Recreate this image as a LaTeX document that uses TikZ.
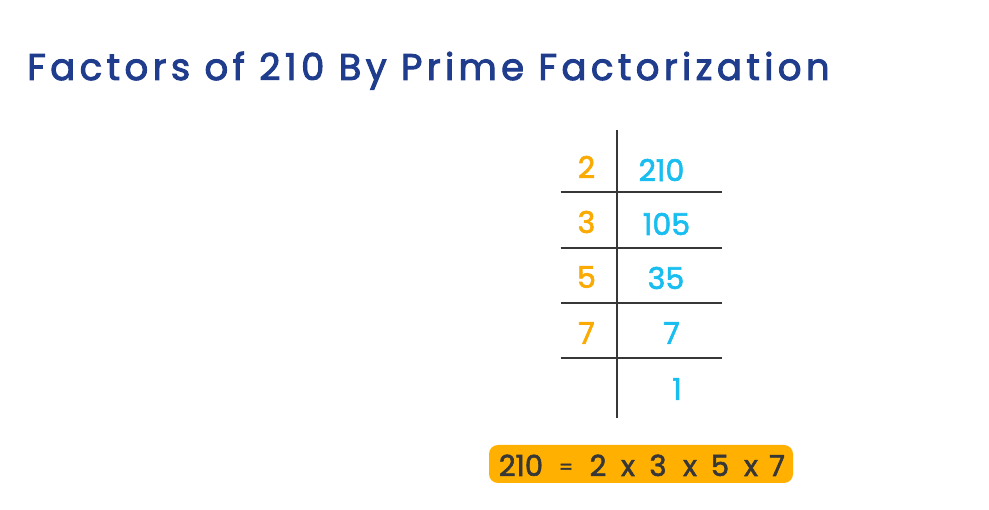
\documentclass[tikz,border=0pt]{standalone}
\usepackage{fontspec}
\setmainfont{Poppins}
\newfontfamily\titlefont[LetterSpace=12,FakeBold=2.6]{Poppins}
\newfontfamily\numfont[FakeBold=2]{Poppins}
\definecolor{titleblue}{RGB}{31,61,140}
\definecolor{numorange}{RGB}{250,170,0}
\definecolor{numblue}{RGB}{25,190,240}
\definecolor{boxorange}{RGB}{255,176,0}
\definecolor{rulegray}{RGB}{55,55,55}
\begin{document}
\begin{tikzpicture}[x=1pt,y=-1pt,
  rule/.style={draw=rulegray,line width=2pt},
  prime/.style={text=numorange,font=\numfont\fontsize{30}{30}\selectfont,inner sep=0pt},
  quot/.style={text=numblue,font=\numfont\fontsize{30}{30}\selectfont,inner sep=0pt},
  eqpart/.style={text=rulegray,font=\numfont\fontsize{29}{29}\selectfont,inner sep=0pt,anchor=base}]
\useasboundingbox[fill=white] (0,0) rectangle (989,510);
% title
\node[anchor=base west,inner sep=0pt,text=titleblue,font=\titlefont\fontsize{37}{37}\selectfont] (title) at (27,80) {Factors of 210 By Prime Factorization};
% table
\coordinate (vt) at (616.5,130);
\coordinate (vb) at (616.5,418);
\draw[rule] (vt) -- (vb);
\foreach \y/\n in {192.5/a,248/b,303/c,358.5/d}{
  \coordinate (l\n) at (560.5,\y);
  \coordinate (r\n) at (722,\y);
  \draw[rule] (l\n) -- (r\n);
}
\node[prime] (p1) at (586.5,167) {2};
\node[prime] (p2) at (586.5,222) {3};
\node[prime] (p3) at (586.5,277) {5};
\node[prime] (p4) at (586.5,333) {7};
\node[quot] (q1) at (661.5,170) {210};
\node[quot] (q2) at (666.5,224) {105};
\node[quot] (q3) at (666,278) {35};
\node[quot] (q4) at (671.5,333) {7};
\node[quot] (q5) at (677,389) {1};
% result box
\node[fill=boxorange,rounded corners=9pt,minimum width=304pt,minimum height=38pt,inner sep=0pt] (box) at (641,464) {};
\node[eqpart] (e1) at (521,476) {210};
\node[eqpart,font=\numfont\fontsize{20}{20}\selectfont] (e2) at (566,474) {=};
\node[eqpart] (e3) at (598,476) {2};
\node[eqpart] (e4) at (628,476) {x};
\node[eqpart] (e5) at (658,476) {3};
\node[eqpart] (e6) at (690,476) {x};
\node[eqpart] (e7) at (720,476) {5};
\node[eqpart] (e8) at (751,476) {x};
\node[eqpart] (e9) at (777,476) {7};
\end{tikzpicture}
\end{document}
